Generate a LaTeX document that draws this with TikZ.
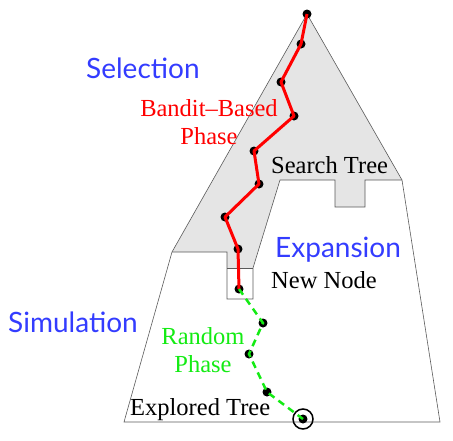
\documentclass[tikz,border=0pt]{standalone}
\usepackage{fontspec}
\setmainfont{Liberation Serif}
\newfontfamily\phasefont{Lato}
\usetikzlibrary{positioning,calc}
\definecolor{phaseblue}{RGB}{51,60,255}
\definecolor{treegray}{RGB}{229,229,229}
\definecolor{edgegray}{RGB}{90,90,90}
\definecolor{randgreen}{RGB}{20,235,20}

\begin{document}
\begin{tikzpicture}[
    x=1pt, y=-1pt,
    dot/.style={circle, fill=black, inner sep=0pt, minimum size=9pt},
    phase/.style={font=\phasefont\fontsize{28}{32}\selectfont, text=phaseblue, inner sep=0pt},
    treelabel/.style={font=\rmfamily\fontsize{24.5}{28.5}\selectfont, inner sep=0pt},
    banditpath/.style={red, line width=3pt, line join=round},
    randompath/.style={randgreen, line width=2.5pt, dash pattern=on 7pt off 5pt}
]
    \useasboundingbox (0,0) rectangle (453,440);

    \fill[treegray] (307,14) -- (402,180) -- (365,180) -- (365,207) -- (335,207)
        -- (335,180) -- (280,180) -- (253,268) -- (227,268) -- (227,252) -- (172,252) -- cycle;
    \draw[edgegray, line width=0.6pt] (172,252) -- (307,14) -- (402,180) -- (440,422) -- (124,422) -- cycle;
    \draw[edgegray, line width=0.6pt] (172,252) -- (227,252) -- (227,299) -- (253,299) -- (253,268) -- (280,180)
        -- (335,180) -- (335,207) -- (365,207) -- (365,180) -- (402,180);
    \draw[edgegray, line width=0.6pt] (227,268) -- (253,268);

    \node[dot] (s0) at (307,14) {};
    \node[dot] (s1) at (301,44) {};
    \node[dot] (s2) at (281,82) {};
    \node[dot] (s3) at (294,116) {};
    \node[dot] (s4) at (254,151) {};
    \node[dot] (s5) at (259,184) {};
    \node[dot] (s6) at (225,217) {};
    \node[dot] (s7) at (238,249) {};
    \node[dot] (new) at (239,289) {};

    \node[dot] (r1) at (263,323) {};
    \node[dot] (r2) at (249,354) {};
    \node[dot] (r3) at (267,392) {};
    \node[dot] (leaf) at (303,419) {};
    \node[circle, draw=black, line width=1.5pt, minimum size=20pt] (ring) at (leaf) {};

    \draw[banditpath] (s0.center) -- (s1.center) -- (s2.center) -- (s3.center) -- (s4.center)
        -- (s5.center) -- (s6.center) -- (s7.center) -- (new.center);
    \draw[randompath] (new.center) -- (r1.center) -- (r2.center) -- (r3.center) -- (leaf.center);

    \node[phase, anchor=base west] (selection) at (86,78) {Selection};
    \node[phase, anchor=base west] (expansion) at (275,257) {Expansion};
    \node[phase, anchor=base west] (simulation) at (8,332) {Simulation};

    \node[treelabel, text=red, align=center, anchor=north] (bandit) at (209,99) {Bandit--Based\\Phase};
    \node[treelabel, text=randgreen, align=center, anchor=north] (random) at (203,327) {Random\\Phase};
    \node[treelabel, anchor=base west] (searchtree) at (271,173) {Search Tree};
    \node[treelabel, anchor=base west] (newnode) at (271,288) {New Node};
    \node[treelabel, anchor=base west] (explored) at (130,415) {Explored Tree};
\end{tikzpicture}
\end{document}
